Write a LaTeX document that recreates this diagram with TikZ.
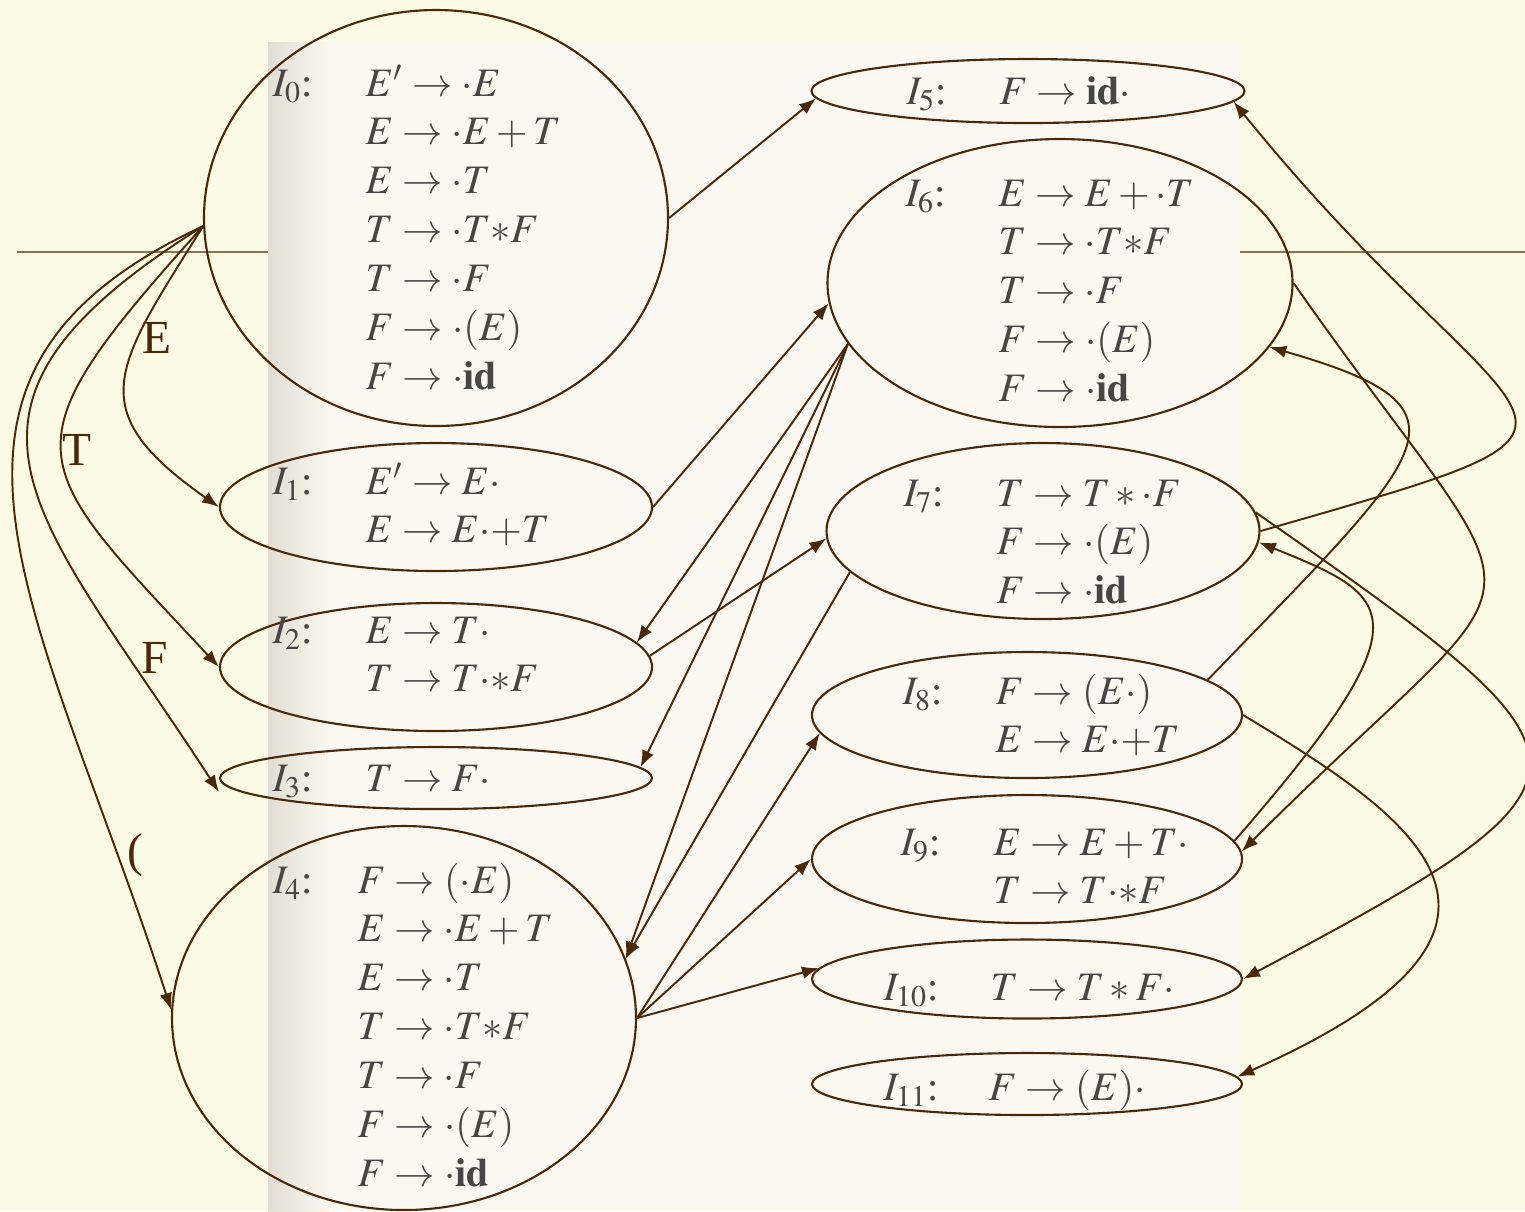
\documentclass[tikz,border=0pt]{standalone}
\usepackage{mathptmx}
\usepackage{fontspec}
\setmainfont{Liberation Serif}
\usetikzlibrary{shapes.geometric,arrows.meta}
\definecolor{slidebg}{RGB}{251,250,229}
\definecolor{scanpage}{RGB}{250,248,240}
\definecolor{scanedge}{RGB}{226,222,212}
\definecolor{rulebrown}{RGB}{140,112,84}
\definecolor{edgebrown}{RGB}{74,40,10}
\definecolor{itemgray}{RGB}{70,70,70}

\begin{document}
\begin{tikzpicture}[
    state/.style={ellipse, draw=edgebrown, line width=0.6pt, inner sep=0pt},
    items/.style={anchor=base west, inner sep=0pt, text=itemgray, font=\fontsize{11.5}{13.9}\selectfont},
    trans/.style={edgebrown, line width=0.55pt, ->, >={Latex[length=4.8pt,width=3.6pt]}},
    sym/.style={inner sep=0pt, text=edgebrown, font=\fontsize{13.5}{16}\selectfont}
  ]
  \useasboundingbox (0,0) rectangle (15.25,-12.11);
  \fill[slidebg] (0,0) rectangle (15.25,-12.11);
  \draw[rulebrown, line width=0.5pt] (0.17,-2.52) -- (15.25,-2.52);
  \fill[scanpage] (2.68,-0.42) rectangle (12.40,-12.11);
  \shade[left color=scanedge, right color=scanpage] (2.68,-0.42) rectangle (3.30,-12.11);

  \node[state, minimum width=4.64cm, minimum height=4.16cm] (i0) at (4.36,-2.18) {};
  \node[state, minimum width=4.32cm, minimum height=1.28cm] (i1) at (4.36,-5.07) {};
  \node[state, minimum width=4.32cm, minimum height=1.28cm] (i2) at (4.36,-6.67) {};
  \node[state, minimum width=4.32cm, minimum height=0.62cm] (i3) at (4.36,-7.78) {};
  \node[state, minimum width=4.64cm, minimum height=3.84cm] (i4) at (4.04,-10.18) {};
  \node[state, minimum width=4.33cm, minimum height=0.64cm] (i5) at (10.28,-0.91) {};
  \node[state, minimum width=4.65cm, minimum height=2.88cm] (i6) at (10.60,-2.83) {};
  \node[state, minimum width=4.33cm, minimum height=1.76cm] (i7) at (10.43,-5.31) {};
  \node[state, minimum width=4.30cm, minimum height=1.26cm] (i8) at (10.27,-7.15) {};
  \node[state, minimum width=4.30cm, minimum height=1.28cm] (i9) at (10.27,-8.59) {};
  \node[state, minimum width=4.30cm, minimum height=0.79cm] (i10) at (10.27,-9.79) {};
  \node[state, minimum width=4.30cm, minimum height=0.62cm] (i11) at (10.27,-10.84) {};

  \node[items] (t0) at (2.72,-0.96) {\begin{tabular}[t]{@{}p{0.93cm}@{}l@{}}
      $I_0$: & $E' \to \cdot E$\\
             & $E \to \cdot E+T$\\
             & $E \to \cdot T$\\
             & $T \to \cdot T{*}F$\\
             & $T \to \cdot F$\\
             & $F \to \cdot (E)$\\
             & $F \to \cdot \mathbf{id}$
    \end{tabular}};
  \node[items] (t1) at (2.72,-4.94) {\begin{tabular}[t]{@{}p{0.93cm}@{}l@{}}
      $I_1$: & $E' \to E\cdot$\\
             & $E \to E{\cdot}{+}T$
    \end{tabular}};
  \node[items] (t2) at (2.72,-6.43) {\begin{tabular}[t]{@{}p{0.93cm}@{}l@{}}
      $I_2$: & $E \to T\cdot$\\
             & $T \to T{\cdot}{*}F$
    \end{tabular}};
  \node[items] (t3) at (2.72,-7.91) {\begin{tabular}[t]{@{}p{0.93cm}@{}l@{}}
      $I_3$: & $T \to F\cdot$
    \end{tabular}};
  \node[items] (t4) at (2.72,-8.93) {\begin{tabular}[t]{@{}p{0.85cm}@{}l@{}}
      $I_4$: & $F \to (\cdot E)$\\
             & $E \to \cdot E+T$\\
             & $E \to \cdot T$\\
             & $T \to \cdot T{*}F$\\
             & $T \to \cdot F$\\
             & $F \to \cdot (E)$\\
             & $F \to \cdot \mathbf{id}$
    \end{tabular}};
  \node[items] (t5) at (9.06,-1.04) {\begin{tabular}[t]{@{}p{0.93cm}@{}l@{}}
      $I_5$: & $F \to \mathbf{id}\cdot$
    \end{tabular}};
  \node[items] (t6) at (9.05,-2.06) {\begin{tabular}[t]{@{}p{0.93cm}@{}l@{}}
      $I_6$: & $E \to E+\cdot T$\\
             & $T \to \cdot T{*}F$\\
             & $T \to \cdot F$\\
             & $F \to \cdot (E)$\\
             & $F \to \cdot \mathbf{id}$
    \end{tabular}};
  \node[items] (t7) at (9.03,-5.06) {\begin{tabular}[t]{@{}p{0.93cm}@{}l@{}}
      $I_7$: & $T \to T*\cdot F$\\
             & $F \to \cdot (E)$\\
             & $F \to \cdot \mathbf{id}$
    \end{tabular}};
  \node[items] (t8) at (9.02,-7.04) {\begin{tabular}[t]{@{}p{0.93cm}@{}l@{}}
      $I_8$: & $F \to (E\cdot)$\\
             & $E \to E{\cdot}{+}T$
    \end{tabular}};
  \node[items] (t9) at (9.00,-8.55) {\begin{tabular}[t]{@{}p{0.93cm}@{}l@{}}
      $I_9$: & $E \to E+T\cdot$\\
             & $T \to T{\cdot}{*}F$
    \end{tabular}};
  \node[items] (t10) at (8.83,-10.00) {\begin{tabular}[t]{@{}p{1.07cm}@{}l@{}}
      $I_{10}$: & $T \to T*F\cdot$
    \end{tabular}};
  \node[items] (t11) at (8.83,-11.00) {\begin{tabular}[t]{@{}p{1.05cm}@{}l@{}}
      $I_{11}$: & $F \to (E)\cdot$
    \end{tabular}};

  \node[sym] (lE) at (1.57,-3.38) {E};
  \node[sym] (lT) at (0.77,-4.50) {T};
  \node[sym] (lF) at (1.55,-6.58) {F};
  \node[sym] (lP) at (1.35,-8.55) {(};

  \draw[trans] (i0.182) .. controls +(238:1.67) and +(145:1.70) .. (i1.west);
  \draw[trans] (i0.182) .. controls +(228:3.03) and +(133:2.85) .. (i2.west);
  \draw[trans] (i0.182) .. controls +(212:3.48) and +(123:3.37) .. ([yshift=-0.14cm]i3.west);
  \draw[trans] (i0.182) .. controls +(205:3.58) and +(108:4.28) .. (i4.178);

  \draw[trans] (i0.east) -- (i5.182);
  \draw[trans] (i1.east) -- (i6.185);
  \draw[trans] (i6.196) -- (i2.7);
  \draw[trans] (i6.196) -- (i3.3);
  \draw[trans] (i6.196) -- (i4.15);
  \draw[trans] (i2.3) -- (i7.182);
  \draw[trans] (i7.192) -- (i4.15);
  \draw[trans] (i4.east) -- (i8.185);
  \draw[trans] (i4.east) -- (i9.west);
  \draw[trans] (i4.east) -- (i10.177);

  \draw[trans] (i6.east) .. controls +(-55:4.48) and +(45:4.48) .. (i9.2);
  \draw[trans] (i7.east) .. controls +(16:4.3) and +(-51:4.6) .. (i5.357);
  \draw[trans] (i7.5) .. controls +(-35:4.36) and +(28:4.36) .. (i10.east);
  \draw[trans] (i9.5) .. controls +(49:3.0) and +(-22:1.46) .. (i7.357);
  \draw[trans] (i8.11) .. controls +(46:3.23) and +(-16:2.24) .. (i6.343);
  \draw[trans] (i8.east) .. controls +(-31:2.07) and +(24:3.66) .. (i11.2);
\end{tikzpicture}
\end{document}
